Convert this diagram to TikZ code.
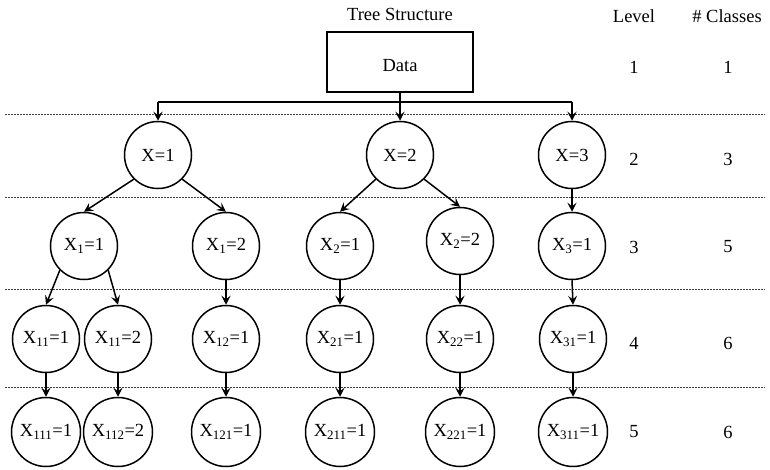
\documentclass[tikz,border=0pt]{standalone}
\usepackage{fontspec}
\setmainfont{Liberation Serif}
\usetikzlibrary{arrows.meta}

\begin{document}
\begin{tikzpicture}[x=1pt, y=-1pt, font=\fontsize{18.5}{22}\selectfont,
    val/.style={circle, draw, line width=1.5pt, minimum size=67pt, inner sep=0pt},
    arr/.style={line width=1.5pt, -{Stealth[length=9pt, width=9pt, inset=3.5pt]}},
    levelsep/.style={dash pattern=on 2pt off 1pt, line width=0.7pt, black!75}]
  \useasboundingbox (0,0) rectangle (770,470);
  % level separators
  \foreach \y in {114, 197, 289, 387}
    \draw[levelsep] (5,\y) -- (765,\y);
  % header and level table
  \node (title) at (400,14) {Tree Structure};
  \node (lvlhead) at (634,16) {Level};
  \node (clshead) at (727,16) {\# Classes};
  \foreach \y/\lev/\cls in {67/1/1, 159/2/3, 247/3/5, 343/4/6, 432/5/6}{
    \node at (634,\y) {\lev};
    \node at (728,\y) {\cls};
  }
  % root
  \node[draw, line width=1.5pt, minimum width=146pt, minimum height=60pt, text height=20pt] (data) at (400,62) {Data};
  % level 2
  \node[val] (r2a) at (158,155) {X=1};
  \node[val] (r2b) at (400,155) {X=2};
  \node[val] (r2c) at (572,155) {X=3};
  % level 3
  \foreach \nm/\x/\y/\lab in {a/84/246/X\textsubscript{1}=1, b/226/246/X\textsubscript{1}=2,
      c/340/246/X\textsubscript{2}=1, d/460/241/X\textsubscript{2}=2, e/572/246/X\textsubscript{3}=1}
    \node[val] (r3\nm) at (\x,\y) {\lab};
  % level 4
  \foreach \nm/\x/\lab in {a/46/X\textsubscript{11}=1, b/118/X\textsubscript{11}=2, c/226/X\textsubscript{12}=1,
      d/340/X\textsubscript{21}=1, e/460/X\textsubscript{22}=1, f/573/X\textsubscript{31}=1}
    \node[val] (r4\nm) at (\x,339) {\lab};
  % level 5
  \foreach \nm/\x/\lab in {a/46/X\textsubscript{111}=1, b/118/X\textsubscript{112}=2, c/226/X\textsubscript{121}=1,
      d/340/X\textsubscript{211}=1, e/460/X\textsubscript{221}=1, f/573/X\textsubscript{311}=1}
    \node[val, minimum size=69pt] (r5\nm) at (\x,432) {\lab};

  % root to level 2
  \coordinate (busl) at (158,102);
  \coordinate (busr) at (572,102);
  \draw[line width=1.5pt] (busl) -- (busr);
  \draw[arr] (data.south) -- (r2b.north);
  \draw[arr] (busl) -- (r2a.north);
  \draw[arr] (busr) -- (r2c.north);
  % level 2 to level 3
  \draw[arr] (r2a.south west) -- (r3a.north);
  \draw[arr] (r2a.south east) -- (r3b.north);
  \draw[arr] (r2b.south west) -- (r3c.north);
  \draw[arr] (r2b.south east) -- (r3d.north);
  \draw[arr] (r2c.south) -- (r3e.north);
  % level 3 to level 4
  \draw[arr] (r3a.south west) -- (r4a.north);
  \draw[arr] (r3a.south east) -- (r4b.north);
  \draw[arr] (r3b.south) -- (r4c.north);
  \draw[arr] (r3c.south) -- (r4d.north);
  \draw[arr] (r3d.south) -- (r4e.north);
  \draw[arr] (r3e.south) -- (r4f.north);
  % level 4 to level 5
  \foreach \c in {a,...,f}
    \draw[arr] (r4\c.south) -- (r5\c.north);
\end{tikzpicture}
\end{document}
